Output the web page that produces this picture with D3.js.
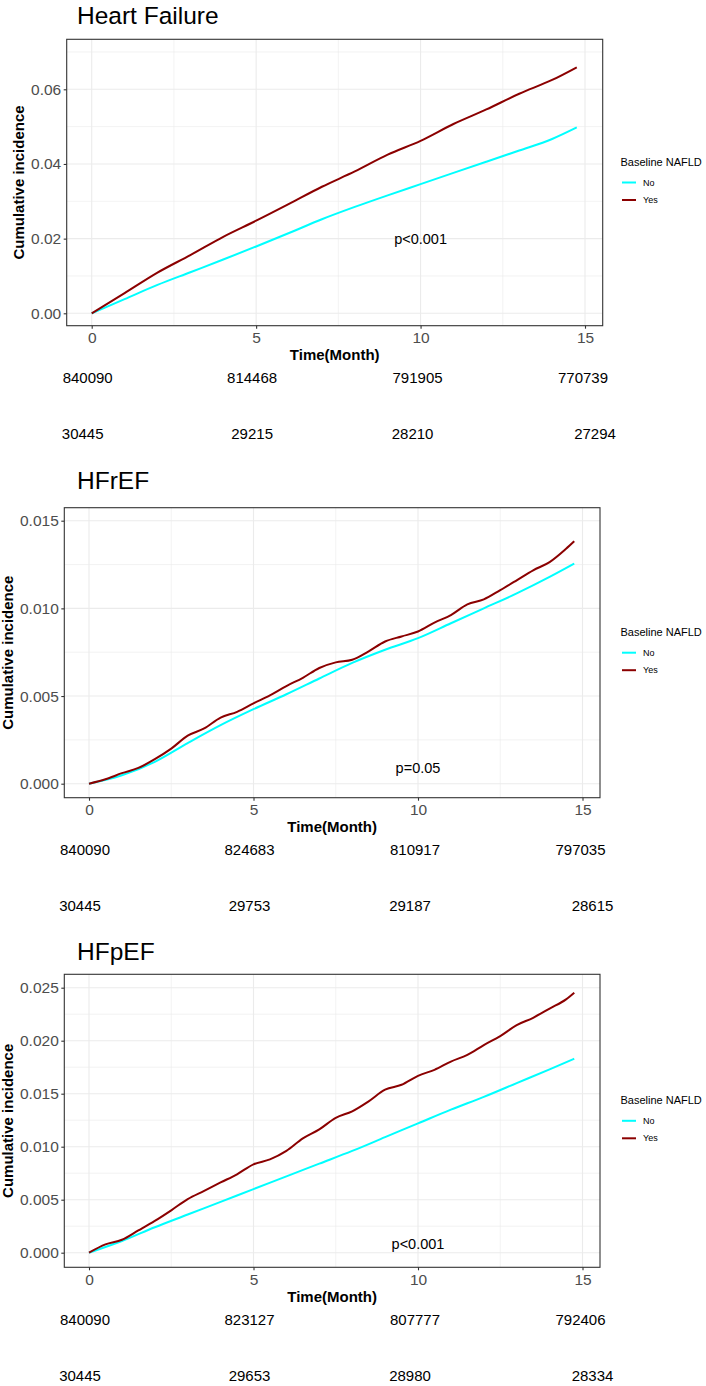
<!DOCTYPE html>
<meta charset="utf-8">
<script src="https://d3js.org/d3.v7.min.js"></script>
<style>
  body { margin: 0; background: #fff; }
  svg { display: block; font-family: "Liberation Sans", Arial, Helvetica, sans-serif; }
</style>
<div id="chart"></div>
<script>
var months = [0, 1, 2, 3, 4, 5, 6, 7, 8, 9, 10, 11, 12, 13, 14, 14.75];
var halfMonths = [0, 0.5, 1, 1.5, 2, 2.5, 3, 3.5, 4, 4.5, 5, 5.5, 6, 6.5, 7, 7.5,
                  8, 8.5, 9, 9.5, 10, 10.5, 11, 11.5, 12, 12.5, 13, 13.5, 14, 14.5, 14.75];

// Heart Failure
var hfNo  = [0, 0.0038, 0.0076, 0.0110, 0.0144, 0.0179, 0.0215, 0.0252, 0.0285, 0.0316, 0.0346, 0.0376, 0.0406, 0.0436, 0.0467, 0.0498];
var hfYes = [0, 0.0054, 0.0109, 0.0156, 0.0205, 0.0248, 0.0293, 0.0339, 0.0380, 0.0425, 0.0462, 0.0507, 0.0546, 0.0588, 0.0625, 0.0659];

// HFrEF
var hfrefNo  = [0, 0.00048, 0.00125, 0.00232, 0.00334, 0.00425, 0.0051, 0.0060, 0.00689, 0.00764, 0.0083, 0.00915, 0.0100, 0.01085, 0.01179, 0.01255];
var hfrefYes = [0, 0.00025, 0.0006, 0.0009, 0.0014, 0.0020, 0.00274, 0.00315, 0.00377, 0.0041, 0.00458, 0.00504, 0.00557, 0.00604, 0.0066, 0.00692,
                0.00707, 0.00755, 0.00811, 0.0084, 0.00868, 0.00919, 0.00962, 0.01023, 0.01051, 0.01104, 0.0116, 0.01217, 0.01264, 0.0134, 0.01383];

// HFpEF
var hfpefNo  = [0, 0.0011, 0.0024, 0.0036, 0.0048, 0.0060, 0.0072, 0.0084, 0.0096, 0.0109, 0.0122, 0.0135, 0.0147, 0.0160, 0.0173, 0.0183];
var hfpefYes = [0, 0.00078, 0.00122, 0.0021, 0.0030, 0.0040, 0.00506, 0.00584, 0.00663, 0.0074, 0.00834, 0.0088, 0.0096, 0.01078, 0.01163, 0.01272,
                0.01334, 0.01428, 0.01538, 0.01584, 0.01669, 0.01725, 0.01803, 0.01866, 0.01959, 0.02044, 0.02147, 0.02216, 0.02303, 0.0239, 0.02453];

// numbers at risk
var riskTimes = [0, 5, 10, 15];
var riskHfNo = [840090, 814468, 791905, 770739];
var riskHfYes = [30445, 29215, 28210, 27294];
var riskHfrefNo = [840090, 824683, 810917, 797035];
var riskHfrefYes = [30445, 29753, 29187, 28615];
var riskHfpefNo = [840090, 823127, 807777, 792406];
var riskHfpefYes = [30445, 29653, 28980, 28334];

var xTicks = [0, 5, 10, 15];
var xMinor = [2.5, 7.5, 12.5];
var groups = ["No", "Yes"];
var colors = {No: "#00FFFF", Yes: "#8B0000"};

var panels = [
  {title: "Heart Failure", pText: "p<0.001", pAt: [10, 0.02], fmt: ".2f",
   yTicks: [0, 0.02, 0.04, 0.06], yMinor: [0.01, 0.03, 0.05, 0.07],
   no: {t: months, v: hfNo}, yes: {t: months, v: hfYes}, riskNo: riskHfNo, riskYes: riskHfYes,
   box: {l: 66.7, r: 602.7, t: 39.3, b: 325.7}, xr: [91.7, 585], yr: [313.3, 89.3], yTop: 0.06,
   titleY: 24, labX: 19},
  {title: "HFrEF", pText: "p=0.05", pAt: [10, 0.0009], fmt: ".3f",
   yTicks: [0, 0.005, 0.01, 0.015], yMinor: [0.0025, 0.0075, 0.0125],
   no: {t: months, v: hfrefNo}, yes: {t: halfMonths, v: hfrefYes}, riskNo: riskHfrefNo, riskYes: riskHfrefYes,
   box: {l: 64.3, r: 600, t: 507.7, b: 797.7}, xr: [89, 582.5], yr: [783.7, 520.7], yTop: 0.015,
   titleY: 489, labX: 8},
  {title: "HFpEF", pText: "p<0.001", pAt: [10, 0.0008], fmt: ".3f",
   yTicks: [0, 0.005, 0.01, 0.015, 0.02, 0.025], yMinor: [0.0025, 0.0075, 0.0125, 0.0175, 0.0225],
   no: {t: months, v: hfpefNo}, yes: {t: halfMonths, v: hfpefYes}, riskNo: riskHfpefNo, riskYes: riskHfpefYes,
   box: {l: 64.3, r: 600, t: 974.3, b: 1267.3}, xr: [89, 582.5], yr: [1252.7, 987.7], yTop: 0.025,
   titleY: 960, labX: 8}
];

// small nudges for the risk-table numbers (they are not exactly on the ticks)
var nudgeRow1 = [-4, -4, -3, -2];
var nudgeRow2 = [-9, -4, -8, 10];

var svg = d3.select("#chart").append("svg")
  .attr("width", 706).attr("height", 1386);

panels.forEach(function(p) {
  var b = p.box;
  var x = d3.scaleLinear().domain([0, 15]).range(p.xr);
  var y = d3.scaleLinear().domain([0, p.yTop]).range(p.yr);
  var g = svg.append("g");

  g.append("rect")
    .attr("x", b.l).attr("y", b.t).attr("width", b.r - b.l).attr("height", b.b - b.t)
    .attr("fill", "#fff");

  // grid
  g.selectAll(".gxm").data(xMinor).enter().append("line")
    .attr("x1", d => x(d)).attr("x2", d => x(d)).attr("y1", b.t).attr("y2", b.b)
    .attr("stroke", "#EBEBEB").attr("stroke-width", 0.6);
  g.selectAll(".gym").data(p.yMinor).enter().append("line")
    .attr("x1", b.l).attr("x2", b.r).attr("y1", d => y(d)).attr("y2", d => y(d))
    .attr("stroke", "#EBEBEB").attr("stroke-width", 0.6);
  g.selectAll(".gx").data(xTicks).enter().append("line")
    .attr("x1", d => x(d)).attr("x2", d => x(d)).attr("y1", b.t).attr("y2", b.b)
    .attr("stroke", "#EBEBEB").attr("stroke-width", 1.1);
  g.selectAll(".gy").data(p.yTicks).enter().append("line")
    .attr("x1", b.l).attr("x2", b.r).attr("y1", d => y(d)).attr("y2", d => y(d))
    .attr("stroke", "#EBEBEB").attr("stroke-width", 1.1);

  // curves
  var line = d3.line().curve(d3.curveMonotoneX).x(d => x(d[0])).y(d => y(d[1]));
  [["No", p.no], ["Yes", p.yes]].forEach(function(s) {
    var pts = s[1].t.map((t, i) => [t, s[1].v[i]]);
    g.append("path").datum(pts)
      .attr("fill", "none")
      .attr("stroke", colors[s[0]])
      .attr("stroke-width", 2)
      .attr("stroke-linejoin", "round")
      .attr("d", line);
  });

  // p value
  g.append("text")
    .attr("x", x(p.pAt[0])).attr("y", y(p.pAt[1]))
    .attr("dy", "0.35em").attr("text-anchor", "middle")
    .style("font-size", "14.5px").attr("fill", "#000")
    .text(p.pText);

  // border
  g.append("rect")
    .attr("x", b.l).attr("y", b.t).attr("width", b.r - b.l).attr("height", b.b - b.t)
    .attr("fill", "none").attr("stroke", "#333333").attr("stroke-width", 1.1);

  // axes
  var ax = g.append("g").attr("transform", "translate(0," + b.b + ")")
    .call(d3.axisBottom(x).tickValues(xTicks).tickSize(3).tickPadding(3.5));
  var ay = g.append("g").attr("transform", "translate(" + b.l + ",0)")
    .call(d3.axisLeft(y).tickValues(p.yTicks).tickFormat(d3.format(p.fmt)).tickSize(3).tickPadding(2.5));
  [ax, ay].forEach(function(a) {
    a.select(".domain").remove();
    a.selectAll(".tick line").attr("stroke", "#333333").attr("stroke-width", 1.1);
    a.selectAll(".tick text").attr("fill", "#4D4D4D")
      .style("font-size", "15.5px").style("font-family", "'Liberation Sans', Arial, sans-serif");
  });

  // titles
  g.append("text").attr("x", 77).attr("y", p.titleY)
    .style("font-size", "24.5px").attr("fill", "#000").text(p.title);
  g.append("text")
    .attr("x", (b.l + b.r) / 2).attr("y", b.b + 29.5).attr("dy", "0.35em")
    .attr("text-anchor", "middle").style("font-size", "15px").style("font-weight", "bold")
    .text("Time(Month)");
  g.append("text")
    .attr("transform", "translate(" + p.labX + "," + ((b.t + b.b) / 2) + ") rotate(-90)")
    .attr("dy", "0.35em").attr("text-anchor", "middle")
    .style("font-size", "15px").style("font-weight", "bold")
    .text("Cumulative incidence");

  // legend
  var cy = (b.t + b.b) / 2;
  var lg = g.append("g");
  lg.append("text").attr("x", 620.5).attr("y", cy - 20.5).attr("dy", "0.35em")
    .style("font-size", "11px").text("Baseline NAFLD");
  groups.forEach(function(k, i) {
    var yy = cy + i * 17.5;
    lg.append("line").attr("x1", 622).attr("x2", 636).attr("y1", yy).attr("y2", yy)
      .attr("stroke", colors[k]).attr("stroke-width", 2);
    lg.append("text").attr("x", 643).attr("y", yy).attr("dy", "0.35em")
      .style("font-size", "9px").text(k);
  });

  // numbers at risk
  [[p.riskNo, 52.5, nudgeRow1], [p.riskYes, 108.5, nudgeRow2]].forEach(function(row) {
    g.selectAll(null).data(row[0]).enter().append("text")
      .attr("x", (d, i) => x(riskTimes[i]) + row[2][i])
      .attr("y", b.b + row[1]).attr("dy", "0.35em")
      .attr("text-anchor", "middle").style("font-size", "15px").attr("fill", "#000")
      .text(d => d);
  });
});
</script>
